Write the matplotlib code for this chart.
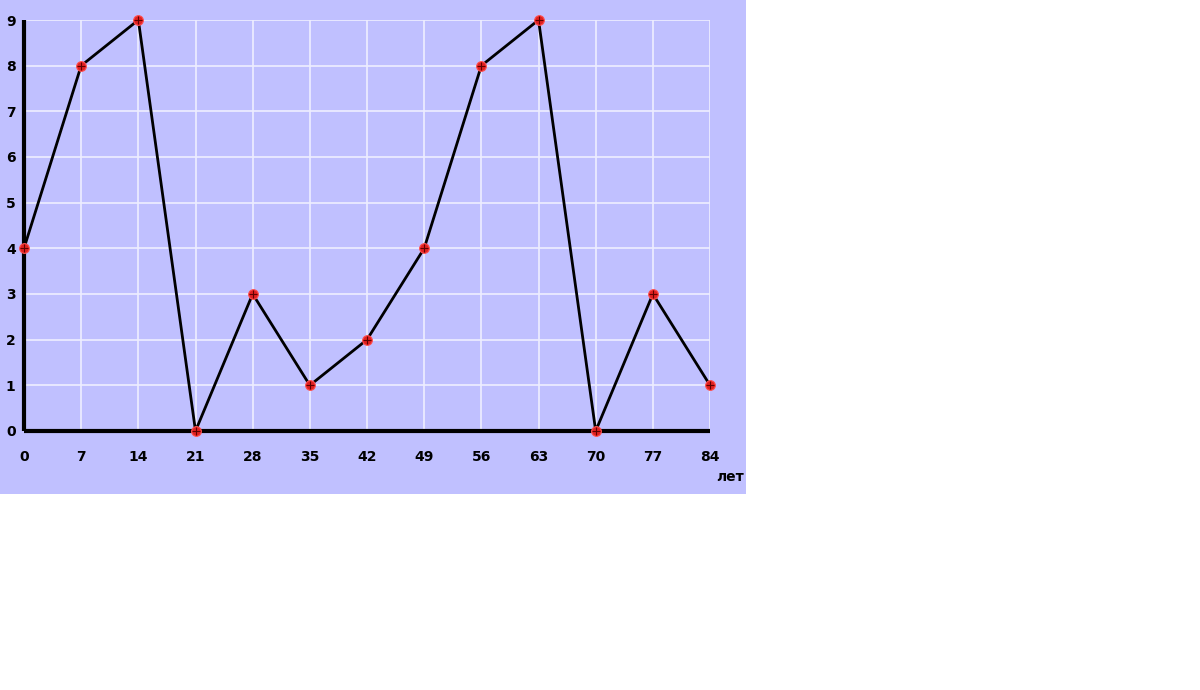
import matplotlib
matplotlib.use("Agg")
import matplotlib.pyplot as plt

years = [0, 7, 14, 21, 28, 35, 42, 49, 56, 63, 70, 77, 84]
values = [4, 8, 9, 0, 3, 1, 2, 4, 8, 9, 0, 3, 1]
yticks = list(range(0, 10))
bg = "#C0C0FF"

fig = plt.figure(figsize=(12, 6.9), dpi=100)
fig.patch.set_facecolor("white")

bgax = fig.add_axes([0, 0.284, 0.6217, 0.716], zorder=-5)
bgax.set_facecolor(bg)
bgax.set_xticks([])
bgax.set_yticks([])
for s in bgax.spines.values():
    s.set_visible(False)

ax = fig.add_axes([0.02, 0.3754, 0.5717, 0.5956], zorder=1)
ax.set_facecolor(bg)
ax.set_xlim(0, 84)
ax.set_ylim(0, 9)
for s in ax.spines.values():
    s.set_visible(False)
ax.set_xticks(years)
ax.set_yticks(yticks)
ax.grid(True, color="#EEEEFF", linewidth=1.2)
ax.tick_params(length=0)
ax.set_xticklabels([str(y) for y in years], fontsize=10, fontweight="bold", family="DejaVu Sans")
ax.set_yticklabels([str(y) for y in yticks], fontsize=10, fontweight="bold", family="DejaVu Sans")
ax.tick_params(axis="x", pad=14)
ax.tick_params(axis="y", pad=6)

ax.plot([0, 0], [0, 9], color="black", lw=3, clip_on=False, zorder=3, solid_capstyle="butt")
ax.plot([0, 84], [0, 0], color="black", lw=3, clip_on=False, zorder=3, solid_capstyle="butt")

ax.plot(years, values, color="black", lw=2, zorder=4, clip_on=False)
ax.plot(years, values, linestyle="none", marker="o", ms=7, mfc="#E02020", mec="#FF5050",
        mew=0.8, zorder=5, clip_on=False)
ax.plot(years, values, linestyle="none", marker="+", ms=6, mec="#600000",
        mew=0.8, zorder=6, clip_on=False)

fig.text(730 / 1200, 1 - 477 / 690, "лет", fontsize=10, fontweight="bold",
         ha="center", va="center", family="DejaVu Sans")

fig.savefig("out.png", dpi=100, facecolor="white")
